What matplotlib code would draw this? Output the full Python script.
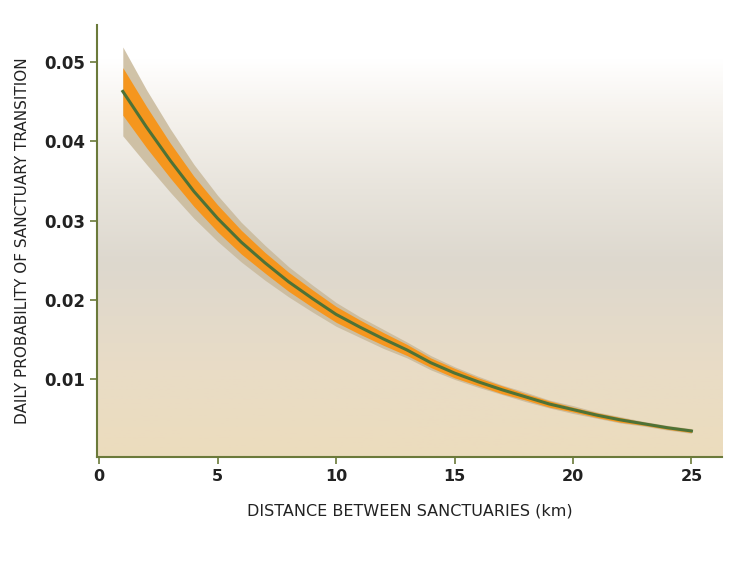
import numpy as np
import matplotlib
matplotlib.use("Agg")
import matplotlib.pyplot as plt
from matplotlib.colors import LinearSegmentedColormap

distance_km = [1, 2, 3, 4, 5, 6, 7, 8, 9, 10, 11, 12, 13, 14, 15, 16, 17, 18, 19, 20, 21, 22, 23, 24, 25]
probability = [0.0463, 0.0418, 0.0376, 0.0337, 0.0303, 0.0273, 0.0247, 0.0223, 0.0202, 0.0182,
               0.0166, 0.0151, 0.0137, 0.0121, 0.0108, 0.0097, 0.0087, 0.0078, 0.0069, 0.0062,
               0.0055, 0.0049, 0.0044, 0.0039, 0.0035]
outer_halfwidth = [0.0056, 0.0047, 0.0040, 0.0034, 0.0029, 0.0025, 0.0022, 0.0019, 0.0017, 0.0015,
                   0.0013, 0.0012, 0.0010, 0.0009, 0.0008, 0.0007, 0.0006, 0.0006, 0.0005, 0.0005,
                   0.0004, 0.0004, 0.0003, 0.0003, 0.0003]
inner_halfwidth = [0.0030, 0.0026, 0.0022, 0.0019, 0.0017, 0.0015, 0.0013, 0.0012, 0.0011, 0.0010,
                   0.0009, 0.0008, 0.0007, 0.0006, 0.0006, 0.0005, 0.0005, 0.0004, 0.0004, 0.0003,
                   0.0003, 0.0003, 0.0002, 0.0002, 0.0002]
x_ticks = [0, 5, 10, 15, 20, 25]
y_ticks = [0.01, 0.02, 0.03, 0.04, 0.05]

x = np.array(distance_km)
p = np.array(probability)
ow = np.array(outer_halfwidth)
iw = np.array(inner_halfwidth)

fig = plt.figure(figsize=(7.5, 5.63), dpi=100)
ax = fig.add_axes([0.129, 0.188, 0.834, 0.768])
xmin, xmax, ymin, ymax = -0.1, 26.3, 0.0002, 0.0547
ax.set_xlim(xmin, xmax)
ax.set_ylim(ymin, ymax)

cmap = LinearSegmentedColormap.from_list("bg", [
    (0.0, "#ecdcbd"), (0.2, "#e9dcc6"), (0.45, "#ddd8ce"), (0.62, "#e8e4dc"),
    (0.8, "#f6f3ee"), (0.92, "#ffffff"), (1.0, "#ffffff")])
grad = np.linspace(0, 1, 256).reshape(-1, 1)
ax.imshow(grad, origin="lower", aspect="auto", cmap=cmap,
          extent=[xmin, xmax, ymin, ymax], zorder=0)

ax.fill_between(x, p - ow, p + ow, color="#c9b99a", alpha=0.85, lw=0, zorder=2)
ax.fill_between(x, p - iw, p + iw, color="#f5961e", lw=0, zorder=3)
ax.plot(x, p, color="#4e7236", lw=2.2, zorder=4, solid_joinstyle="round")

for s in ["top", "right"]:
    ax.spines[s].set_visible(False)
for s in ["left", "bottom"]:
    ax.spines[s].set_color("#6b7a3a")
    ax.spines[s].set_linewidth(1.5)
ax.tick_params(colors="#6b7a3a", width=1.2, length=5)
ax.set_xticks(x_ticks)
ax.set_yticks(y_ticks)
ax.set_xticklabels([str(t) for t in x_ticks], fontsize=11.5, fontweight="bold", color="#222222", family="DejaVu Sans")
ax.set_yticklabels([f"{t:.2f}" for t in y_ticks], fontsize=12, fontweight="bold", color="#222222", family="DejaVu Sans")
ax.set_xlabel("DISTANCE BETWEEN SANCTUARIES (km)", fontsize=11.5, color="#222222", family="DejaVu Sans", labelpad=14)
ax.set_ylabel("DAILY PROBABILITY OF SANCTUARY TRANSITION", fontsize=11, color="#222222", family="DejaVu Sans", labelpad=10)

fig.savefig("out.png", dpi=100)
